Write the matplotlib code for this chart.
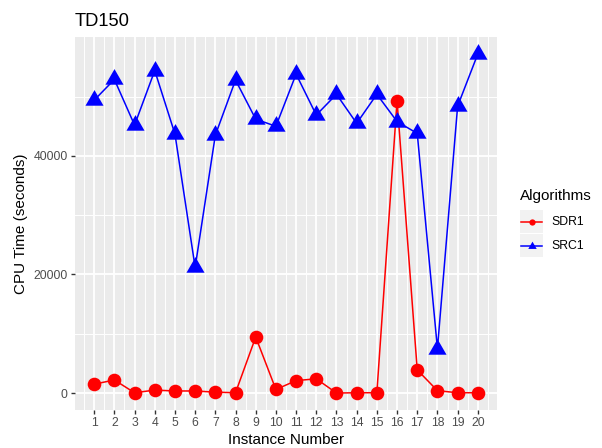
import numpy as np
import matplotlib
matplotlib.use("Agg")
import matplotlib.pyplot as plt
from matplotlib.lines import Line2D
from matplotlib.patches import Rectangle

plt.rcParams['font.family'] = ['Liberation Sans', 'DejaVu Sans']

# CPU time per instance for the two algorithms
instances = list(range(1, 21))
sdr1 = [1500, 2200, 50, 500, 350, 350, 150, 50, 9450, 600,
        2100, 2400, 0, 50, 50, 49300, 3900, 400, 50, 50]
src1 = [49400, 52900, 45200, 54400, 43700, 21200, 43500, 52800, 46200, 45000,
        53800, 46900, 50400, 45500, 50400, 45800, 43800, 7500, 48400, 57200]
series_names = ['SDR1', 'SRC1']
series_colors = ['#FF0000', '#0000FF']

y_ticks = [0, 20000, 40000]

# R-style filled triangle (pch 17), anchored at its centroid
tri = [(0, 1.555), (1.347, -0.778), (-1.347, -0.778), (0, 1.555)]

W, H = 602, 448


def fx(px):
    return px / W


def fy(py):
    # pixel rows counted from the top
    return 1 - py / H


fig = plt.figure(figsize=(W / 100, H / 100), dpi=100)
ax = fig.add_axes([fx(75), fy(410), fx(497 - 75), (410 - 37) / H])
ax.set_facecolor('#EBEBEB')

ymax = max(max(sdr1), max(src1))
ymin = min(min(sdr1), min(src1))
pad = (ymax - ymin) * 0.05
ax.set_ylim(ymin - pad, ymax + pad)
ax.set_xlim(1 - 19 * 0.05, 20 + 19 * 0.05)

ax.set_xticks(instances)
ax.set_xticks(np.arange(0.5, 21, 1.0), minor=True)
ax.set_yticks(y_ticks)
ax.set_yticks([10000, 30000, 50000], minor=True)
ax.grid(which='major', color='white', linewidth=1.3)
ax.grid(which='minor', color='white', linewidth=0.7)
ax.set_axisbelow(True)
for s in ax.spines.values():
    s.set_visible(False)
ax.tick_params(which='major', length=2.75, width=1.0, color='#333333',
               labelsize=8.8, labelcolor='#4D4D4D', pad=2.5)
ax.tick_params(which='minor', length=0)

ax.plot(instances, sdr1, color=series_colors[0], lw=1.1, zorder=2)
ax.plot(instances, src1, color=series_colors[1], lw=1.1, zorder=2.1)
ax.plot(instances, sdr1, linestyle='none', marker='o', markersize=9.8,
        markeredgewidth=0, color=series_colors[0], zorder=3)
ax.plot(instances, src1, linestyle='none', marker=tri, markersize=15,
        markeredgewidth=0, color=series_colors[1], zorder=3.1)

ax.set_title('TD150', loc='left', fontsize=13.2, pad=8)
ax.set_xlabel('Instance Number', fontsize=11, labelpad=3)
ax.set_ylabel('CPU Time (seconds)', fontsize=11, labelpad=4)

# legend: grey key squares with a line and a small marker, labels to the right
fig.text(fx(520), fy(200), 'Algorithms', fontsize=11, ha='left', va='baseline')
key_markers = ['o', tri]
key_sizes = [4.5, 7]
key_tops = [210, 234]
for name, color, mk, ms, top in zip(series_names, series_colors, key_markers,
                                    key_sizes, key_tops):
    fig.add_artist(Rectangle((fx(520), fy(top + 23)), fx(23), 23 / H,
                             facecolor='#F2F2F2', edgecolor='none'))
    mid = top + 11.8
    fig.add_artist(Line2D([fx(521), fx(542)], [fy(mid), fy(mid)], color=color,
                          lw=1.1))
    fig.add_artist(Line2D([fx(531.5)], [fy(mid)], color=color, marker=mk,
                          markersize=ms, markeredgewidth=0, linestyle='none'))
    fig.text(fx(551), fy(mid), name, fontsize=8.8, ha='left', va='center')

fig.savefig('out.png', dpi=100)
